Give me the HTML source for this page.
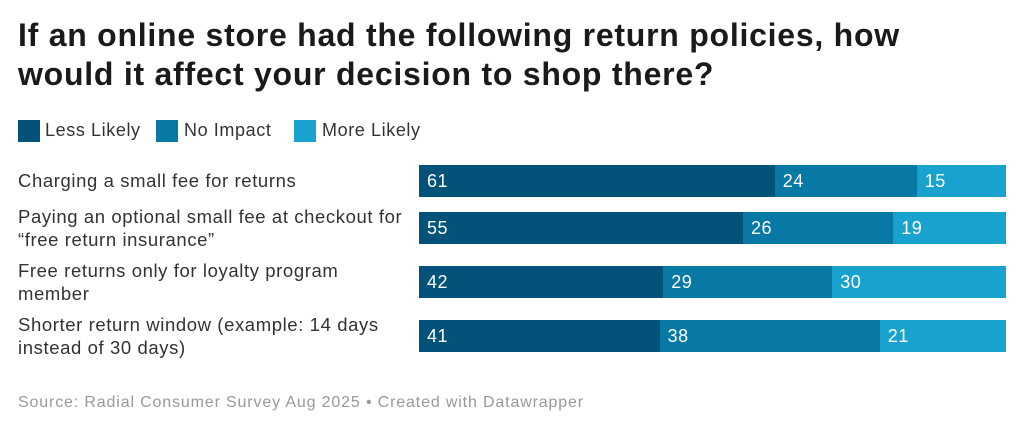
<!DOCTYPE html>
<html><head><meta charset="utf-8"><style>
body{margin:0;width:1024px;height:431px;background:#fff;font-family:"Liberation Sans",Arial,sans-serif;color:#222;position:relative;overflow:hidden}
.t{position:absolute;left:18px;top:16px;font-size:32px;font-weight:bold;line-height:39px;color:#1a1a1a;letter-spacing:0.75px;white-space:nowrap}
.lg{position:absolute;top:119px;height:22px;font-size:18px;line-height:22px;color:#333;letter-spacing:0.6px}
.sq{position:absolute;top:120px;width:22px;height:22px}
.lab{position:absolute;left:18px;font-size:18.5px;line-height:23px;color:#333;letter-spacing:0.6px;white-space:nowrap}
.bar{position:absolute;left:419px;width:587px;height:32px;display:flex}
.bar div{height:100%;color:#fff;font-size:18px;line-height:32px;padding-left:8px;box-sizing:border-box;letter-spacing:0.5px}
.a{background:#03527a}.b{background:#0878a4}.c{background:#19a2cd}
.src{position:absolute;left:18px;top:394px;font-size:16px;color:#999;letter-spacing:0.85px;white-space:nowrap}
</style></head><body>
<div class="t">If an online store had the following return policies, how<br>would it affect your decision to shop there?</div>
<div class="sq a" style="left:18px"></div><div class="lg" style="left:45px">Less Likely</div>
<div class="sq b" style="left:156px"></div><div class="lg" style="left:184px">No Impact</div>
<div class="sq c" style="left:294px"></div><div class="lg" style="left:322px">More Likely</div>

<div class="lab" style="top:169px">Charging a small fee for returns</div>
<div class="bar" style="top:165px"><div class="a" style="width:60.6%">61</div><div class="b" style="width:24.2%">24</div><div class="c" style="width:15.2%">15</div></div>

<div class="lab" style="top:205px">Paying an optional small fee at checkout for<br>“free return insurance”</div>
<div class="bar" style="top:212px"><div class="a" style="width:55.2%">55</div><div class="b" style="width:25.6%">26</div><div class="c" style="width:19.2%">19</div></div>

<div class="lab" style="top:259px">Free returns only for loyalty program<br>member</div>
<div class="bar" style="top:266px"><div class="a" style="width:41.6%">42</div><div class="b" style="width:28.8%">29</div><div class="c" style="width:29.6%">30</div></div>

<div class="lab" style="top:313px">Shorter return window (example: 14 days<br>instead of 30 days)</div>
<div class="bar" style="top:320px"><div class="a" style="width:41%">41</div><div class="b" style="width:37.5%">38</div><div class="c" style="width:21.5%">21</div></div>

<div class="src">Source: Radial Consumer Survey Aug 2025 • Created with Datawrapper</div>
</body></html>
